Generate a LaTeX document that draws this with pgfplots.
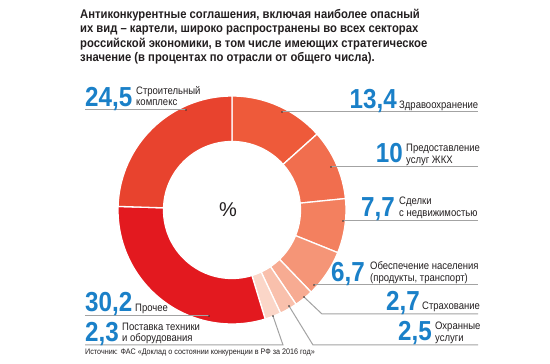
\documentclass[border=0pt]{standalone}
\usepackage{fontspec}
\usepackage{pgfplots}
\usepackage{pgfplotstable}
\pgfplotsset{compat=1.18}
\setmainfont{Liberation Sans}
\newfontfamily\labf[FakeStretch=0.88]{Liberation Sans}
\newfontfamily\srcf[FakeStretch=0.9]{Liberation Sans}
\newfontfamily\numf[FakeStretch=0.88]{Liberation Sans}
\newfontfamily\titf[FakeStretch=0.9]{Liberation Sans}
\definecolor{cA}{HTML}{EE5A3A}
\definecolor{cB}{HTML}{F16E4E}
\definecolor{cC}{HTML}{F3805F}
\definecolor{cD}{HTML}{F59577}
\definecolor{cE}{HTML}{F7AB92}
\definecolor{cF}{HTML}{F9C0AC}
\definecolor{cG}{HTML}{FBD6C8}
\definecolor{cH}{HTML}{E3191F}
\definecolor{cI}{HTML}{E8432E}
\definecolor{numblue}{HTML}{1A80C8}
\definecolor{lead}{HTML}{A3A3A3}
\definecolor{txt}{HTML}{231F20}
\pgfplotstableread{
share col
13.4 cA
10 cB
7.7 cC
6.7 cD
2.7 cE
2.5 cF
2.3 cG
30.2 cH
24.5 cI
}\sharedata
\begin{document}
\begin{tikzpicture}
\begin{axis}[x=1pt,y=1pt,xmin=0,xmax=550,ymin=0,ymax=364,hide axis,clip=false]
\fill[white] (axis cs:0,0) rectangle (axis cs:550,364);
\def\cum{0}
\pgfplotsforeachungrouped \i in {0,...,8}{%
  \pgfplotstablegetelem{\i}{share}\of\sharedata \let\sv\pgfplotsretval
  \pgfplotstablegetelem{\i}{col}\of\sharedata \let\scol\pgfplotsretval
  \pgfmathsetmacro\sa{90-3.6*\cum}%
  \pgfmathsetmacro\cum{\cum+\sv}%
  \pgfmathsetmacro\ea{90-3.6*\cum}%
  \edef\cmd{\noexpand\fill[\scol, draw=white, line width=1.3pt] (axis cs:232,154) ++(\sa:114pt) arc[start angle=\sa, end angle=\ea, radius=114pt] -- ++(\ea:-45.5pt) arc[start angle=\ea, end angle=\sa, radius=68.5pt] -- cycle;}%
  \cmd
}
% leader lines
\draw[lead, line width=1pt] (axis cs:85,254) -- (axis cs:186,254);
\draw[lead, line width=1pt] (axis cs:85,48) -- (axis cs:209,48);
\draw[lead, line width=1pt] (axis cs:85,19) -- (axis cs:283,19) -- (axis cs:273,48);
\draw[lead, line width=1pt] (axis cs:282,252) -- (axis cs:478,252);
\draw[lead, line width=1pt] (axis cs:331,197) -- (axis cs:478,197);
\draw[lead, line width=1pt] (axis cs:343,143) -- (axis cs:478,143);
\draw[lead, line width=1pt] (axis cs:314,79) -- (axis cs:478,79);
\draw[lead, line width=1pt] (axis cs:304,67) -- (axis cs:322,50) -- (axis cs:478,50);
\draw[lead, line width=1pt] (axis cs:289,58) -- (axis cs:313,19) -- (axis cs:478,19);
\fill[black!80] (axis cs:186,254) circle[radius=0.9pt];
\fill[black!80] (axis cs:209,48) circle[radius=0.9pt];
\fill[black!80] (axis cs:273,48) circle[radius=0.9pt];
\fill[black!80] (axis cs:282,252) circle[radius=0.9pt];
\fill[black!80] (axis cs:331,197) circle[radius=0.9pt];
\fill[black!80] (axis cs:343,143) circle[radius=0.9pt];
\fill[black!80] (axis cs:314,79) circle[radius=0.9pt];
\fill[black!80] (axis cs:304,67) circle[radius=0.9pt];
\fill[black!80] (axis cs:289,58) circle[radius=0.9pt];
% title
\begin{scope}[every node/.style={anchor=base west, inner sep=0pt, text=txt, font=\titf\bfseries\fontsize{12.5}{14.5}\selectfont}]
\node at (axis cs:80,345.5) {Антиконкурентные соглашения, включая наиболее опасный};
\node at (axis cs:80,331) {их вид – картели, широко распространены во всех секторах};
\node at (axis cs:80,316.5) {российской экономики, в том числе имеющих стратегическое};
\node at (axis cs:80,302) {значение (в процентах по отрасли от общего числа).};
\end{scope}
% numbers
\begin{scope}[every node/.style={inner sep=0pt, text=numblue, font=\numf\bfseries\fontsize{27.5}{28}\selectfont}]
\node[anchor=base west] at (axis cs:85,257) {24,5};
\node[anchor=base west] at (axis cs:85,52) {30,2};
\node[anchor=base west] at (axis cs:85,22) {2,3};
\node[anchor=base east] at (axis cs:397,255) {13,4};
\node[anchor=base east] at (axis cs:403,201) {10};
\node[anchor=base east] at (axis cs:395,147) {7,7};
\node[anchor=base east] at (axis cs:365,82) {6,7};
\node[anchor=base east] at (axis cs:420,53) {2,7};
\node[anchor=base east] at (axis cs:432,23) {2,5};
\end{scope}
% labels
\begin{scope}[every node/.style={anchor=base west, inner sep=0pt, text=txt, font=\labf\fontsize{10.8}{11.5}\selectfont}]
\node at (axis cs:136,269) {Строительный};
\node at (axis cs:136,258) {комплекс};
\node at (axis cs:135,52) {Прочее};
\node at (axis cs:122,33) {Поставка техники};
\node at (axis cs:122,22) {и оборудования};
\node at (axis cs:399,255) {Здравоохранение};
\node at (axis cs:406,212) {Предоставление};
\node at (axis cs:406,200) {услуг ЖКХ};
\node at (axis cs:399,159) {Сделки};
\node at (axis cs:399,147) {с недвижимостью};
\node at (axis cs:370,94) {Обеспечение населения};
\node at (axis cs:370,82) {(продукты, транспорт)};
\node at (axis cs:422,54) {Страхование};
\node at (axis cs:435,34) {Охранные};
\node at (axis cs:435,22.5) {услуги};
\end{scope}
\node[anchor=base west, inner sep=0pt, text=txt, font=\srcf\fontsize{8}{9}\selectfont] at (axis cs:85,9) {Источник: ФАС «Доклад о состоянии конкуренции в РФ за 2016 год»};
\node[inner sep=0pt, text=txt, font=\fontsize{20}{20}\selectfont] at (axis cs:228,154.5) {\%};
\end{axis}
\end{tikzpicture}
\end{document}
